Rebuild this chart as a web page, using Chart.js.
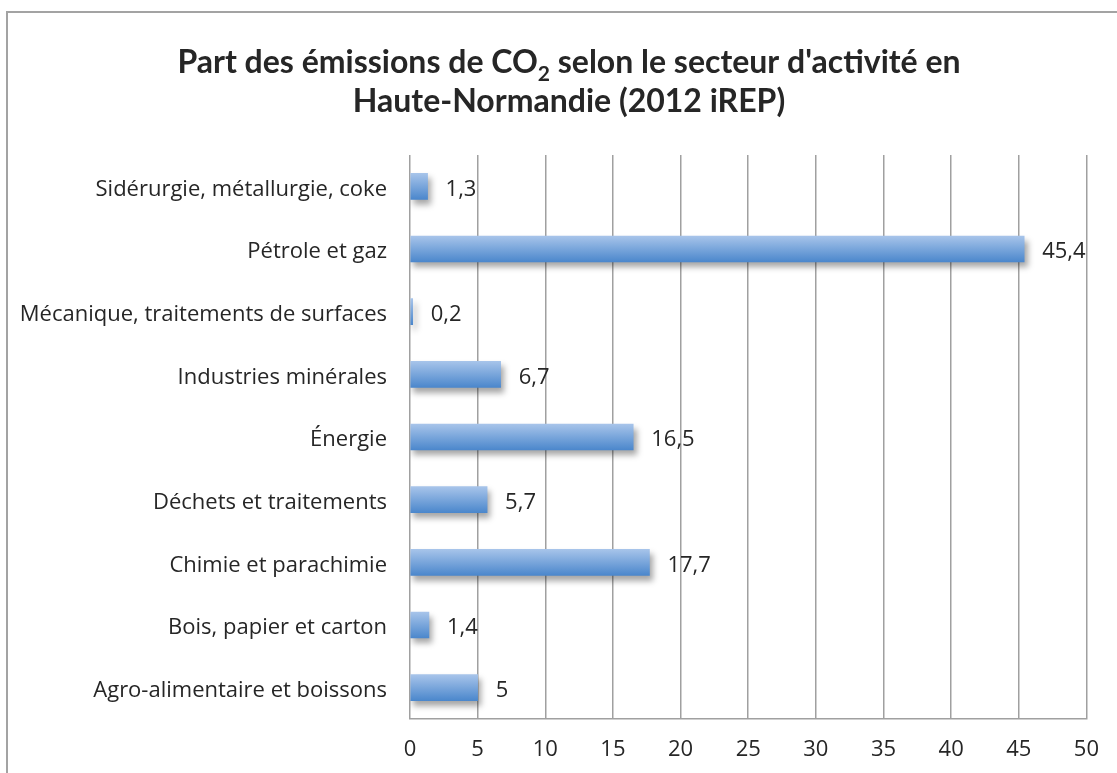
<!DOCTYPE html>
<html>
<head>
<meta charset="utf-8">
<script src="https://cdn.jsdelivr.net/npm/chart.js@4/dist/chart.umd.min.js"></script>
<style>
  html, body { margin: 0; padding: 0; background: #fff; overflow: hidden; }
  #wrap { position: relative; width: 1117px; height: 773px; }
  #frame { position: absolute; left: 6px; top: 11px; width: 1200px; height: 900px;
           border: 2px solid #a3a3a3; box-sizing: border-box; }
  canvas { position: absolute; left: 0; top: 0; }
</style>
</head>
<body>
<div id="wrap">
  <div id="frame"></div>
  <canvas id="myChart" width="1117" height="773"></canvas>
</div>
<script>
// data (top row first)
const sectors = [
    'Sidérurgie, métallurgie, coke',
    'Pétrole et gaz',
    'Mécanique, traitements de surfaces',
    'Industries minérales',
    'Énergie',
    'Déchets et traitements',
    'Chimie et parachimie',
    'Bois, papier et carton',
    'Agro-alimentaire et boissons'
];
const shares = [1.3, 45.4, 0.2, 6.7, 16.5, 5.7, 17.7, 1.4, 5];
const xTicks = [0, 5, 10, 15, 20, 25, 30, 35, 40, 45, 50];
const titleLine1 = ['Part des émissions de CO', '2', ' selon le secteur d\'activité en'];
const titleLine2 = 'Haute-Normandie (2012 iREP)';

const TITLE_FONT = 'Lato, "Open Sans", sans-serif';
const FONT = '"Open Sans", Lato, sans-serif';
const textColor = '#262626';
const BAR_H = 26;

function frNumber(v){
    return String(v).replace('.', ',');
}

// title drawn by hand so the 2 of CO2 can sit lower
const titlePlugin = {
    id: 'titleSub',
    afterDraw(chart){
        const ctx = chart.ctx;
        const cx = 569;
        ctx.save();
        ctx.fillStyle = textColor;
        ctx.textBaseline = 'alphabetic';
        const big = 'bold 32px ' + TITLE_FONT;
        const small = 'bold 21px ' + TITLE_FONT;
        ctx.font = big;
        let w0 = ctx.measureText(titleLine1[0]).width;
        let w2 = ctx.measureText(titleLine1[2]).width;
        ctx.font = small;
        let w1 = ctx.measureText(titleLine1[1]).width;
        let x = cx - (w0 + w1 + w2) / 2;
        ctx.font = big;
        ctx.textAlign = 'left';
        ctx.fillText(titleLine1[0], x, 73);
        ctx.font = small;
        ctx.fillText(titleLine1[1], x + w0, 81);
        ctx.font = big;
        ctx.fillText(titleLine1[2], x + w0 + w1, 73);
        ctx.textAlign = 'center';
        ctx.fillText(titleLine2, cx, 112);
        ctx.restore();
    }
};

// soft shadow under the bars, and a vertical gradient per bar
const shadowPlugin = {
    id: 'barShadow',
    beforeDatasetsDraw(chart){
        const ctx = chart.ctx;
        const meta = chart.getDatasetMeta(0);
        meta.data.forEach(bar => {
            const g = ctx.createLinearGradient(0, bar.y - bar.height / 2, 0, bar.y + bar.height / 2);
            g.addColorStop(0, '#a7c4ea');
            g.addColorStop(1, '#4b87cc');
            bar.options = Object.assign({}, bar.options, { backgroundColor: g });
        });
        ctx.save();
        ctx.shadowColor = 'rgba(0,0,0,0.35)';
        ctx.shadowOffsetX = 3;
        ctx.shadowOffsetY = 5;
        ctx.shadowBlur = 6;
    },
    afterDatasetsDraw(chart){
        chart.ctx.restore();
    }
};

// value labels to the right of each bar
const valuePlugin = {
    id: 'values',
    afterDatasetsDraw(chart){
        const ctx = chart.ctx;
        const meta = chart.getDatasetMeta(0);
        ctx.save();
        ctx.font = '22px ' + FONT;
        ctx.fillStyle = textColor;
        ctx.textAlign = 'left';
        ctx.textBaseline = 'middle';
        meta.data.forEach((bar, i) => {
            ctx.fillText(frNumber(shares[i]), bar.x + 18, bar.y + 3);
        });
        ctx.restore();
    }
};

const ctx = document.getElementById('myChart').getContext('2d');
const myChart = new Chart(ctx, {
    type: 'bar',
    data: {
        labels: sectors,
        datasets: [{
            data: shares,
            backgroundColor: '#6b9bd6',
            borderWidth: 0,
            barThickness: BAR_H
        }]
    },
    options: {
        indexAxis: 'y',
        responsive: false,
        animation: false,
        layout: { padding: { top: 155, right: 30, left: 0, bottom: 0 } },
        plugins: {
            legend: { display: false },
            tooltip: { enabled: false },
            title: { display: false }
        },
        scales: {
            x: {
                min: 0,
                max: 50,
                afterBuildTicks(scale){
                    scale.ticks = xTicks.map(v => ({ value: v }));
                },
                afterFit(scale){ scale.height = 54; },
                grid: { color: '#a0a0a0', lineWidth: 1.5, drawTicks: false },
                border: { color: '#a0a0a0', width: 1.5 },
                ticks: {
                    padding: 18,
                    color: textColor,
                    font: { family: FONT, size: 22 },
                    callback: v => frNumber(v)
                }
            },
            y: {
                afterFit(scale){ scale.width = 410; },
                grid: { display: false, drawTicks: false },
                border: { display: false },
                ticks: {
                    padding: 23,
                    labelOffset: 3,
                    color: textColor,
                    font: { family: FONT, size: 22 }
                }
            }
        }
    },
    plugins: [titlePlugin, shadowPlugin, valuePlugin]
});
</script>
</body>
</html>
